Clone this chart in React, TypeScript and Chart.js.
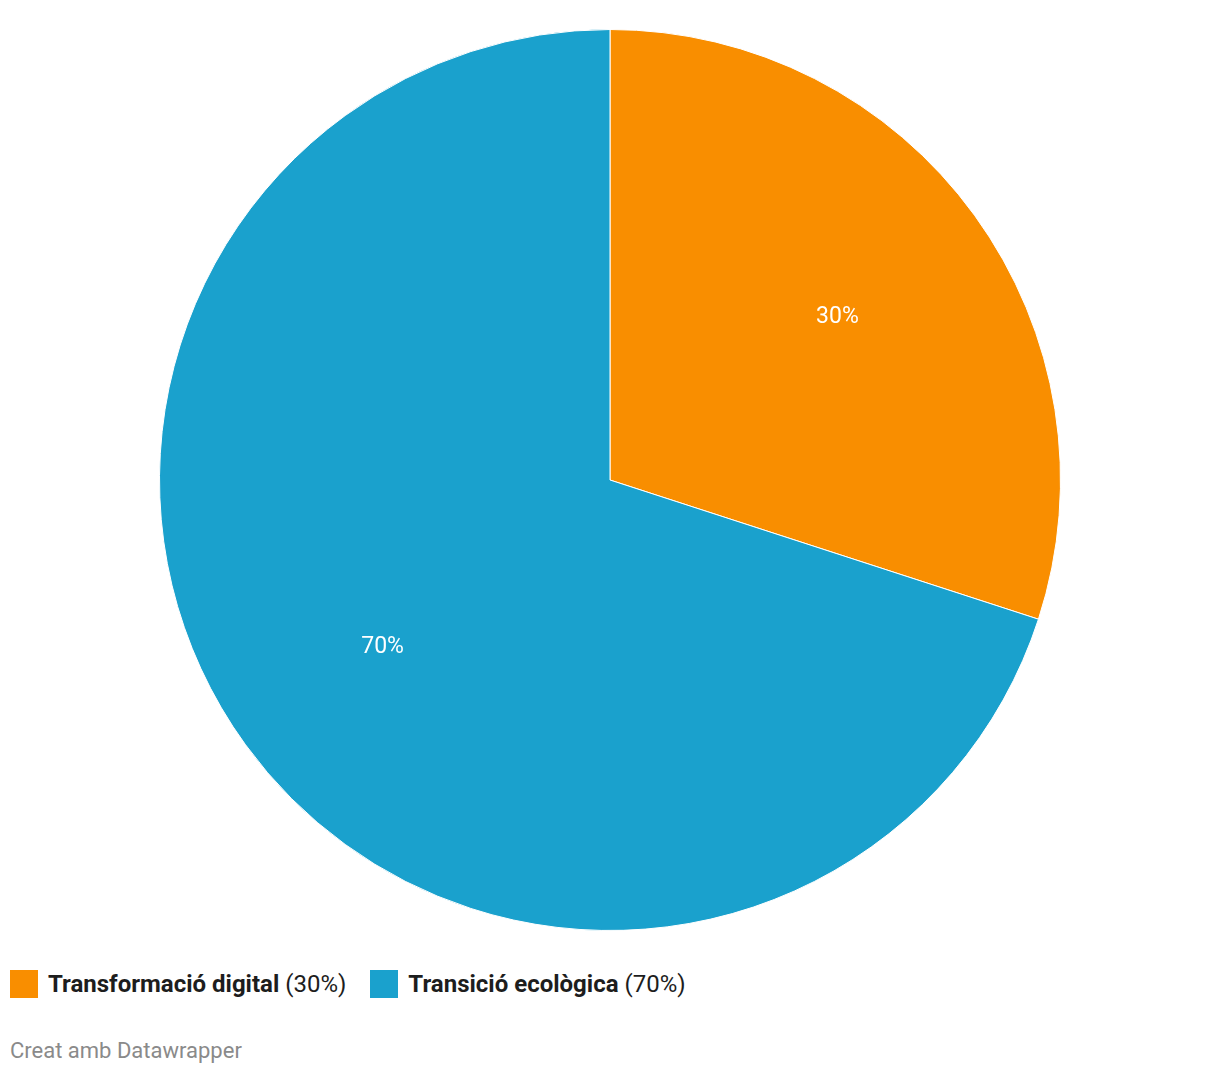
import React, { useEffect, useRef } from "react";
import { Chart, registerables } from "chart.js";

Chart.register(...registerables);

const categories = ["Transformació digital", "Transició ecològica"];
const values = [30, 70];
const valueLabels = ["30%", "70%"];
const colors = ["#f98e00", "#1aa1cd"];
const footerText = "Creat amb Datawrapper";

const sliceLabelPlugin = {
  id: "sliceLabels",
  afterDatasetsDraw(chart: any) {
    const ctx = chart.ctx;
    const meta = chart.getDatasetMeta(0);
    ctx.save();
    ctx.fillStyle = "#ffffff";
    ctx.font = "23px Roboto";
    ctx.textAlign = "center";
    ctx.textBaseline = "middle";
    meta.data.forEach((arc: any, i: number) => {
      const { x, y, startAngle, endAngle, outerRadius } = arc.getProps(
        ["x", "y", "startAngle", "endAngle", "outerRadius"],
        true
      );
      const mid = (startAngle + endAngle) / 2;
      const r = outerRadius * 0.624;
      ctx.fillText(valueLabels[i], x + Math.cos(mid) * r, y + Math.sin(mid) * r + 2);
    });
    ctx.restore();
  },
};

export default function App() {
  const canvasRef = useRef<HTMLCanvasElement | null>(null);

  useEffect(() => {
    if (!canvasRef.current) return;
    const chart = new Chart(canvasRef.current, {
      type: "pie",
      data: {
        labels: categories,
        datasets: [
          {
            data: values,
            backgroundColor: colors,
            borderColor: "#ffffff",
            borderWidth: 1,
          },
        ],
      },
      options: {
        animation: false,
        responsive: false,
        maintainAspectRatio: false,
        layout: { padding: { top: 21, bottom: 21, left: 0, right: 0 } },
        plugins: {
          legend: { display: false },
          tooltip: { enabled: false },
        },
      },
      plugins: [sliceLabelPlugin],
    });
    return () => chart.destroy();
  }, []);

  return (
    <div style={{ fontFamily: "Roboto, sans-serif", width: 1204 }}>
      <canvas ref={canvasRef} width={1204} height={944} style={{ display: "block" }} />
      <div
        style={{
          display: "flex",
          alignItems: "center",
          marginTop: 18,
          height: 28,
          paddingLeft: 2,
        }}
      >
        {categories.map((c, i) => (
          <div key={c} style={{ display: "flex", alignItems: "center", marginRight: 24 }}>
            <span
              style={{
                display: "inline-block",
                width: 28,
                height: 28,
                background: colors[i],
                marginRight: 10,
                flexShrink: 0,
              }}
            />
            <span style={{ fontSize: 24, color: "#1d1d1d", whiteSpace: "nowrap" }}>
              <b style={{ fontWeight: 700 }}>{c}</b> ({valueLabels[i]})
            </span>
          </div>
        ))}
      </div>
      <div
        style={{
          marginTop: 40,
          paddingLeft: 2,
          fontSize: 22,
          lineHeight: "26px",
          color: "#8a8a8a",
        }}
      >
        {footerText}
      </div>
    </div>
  );
}
